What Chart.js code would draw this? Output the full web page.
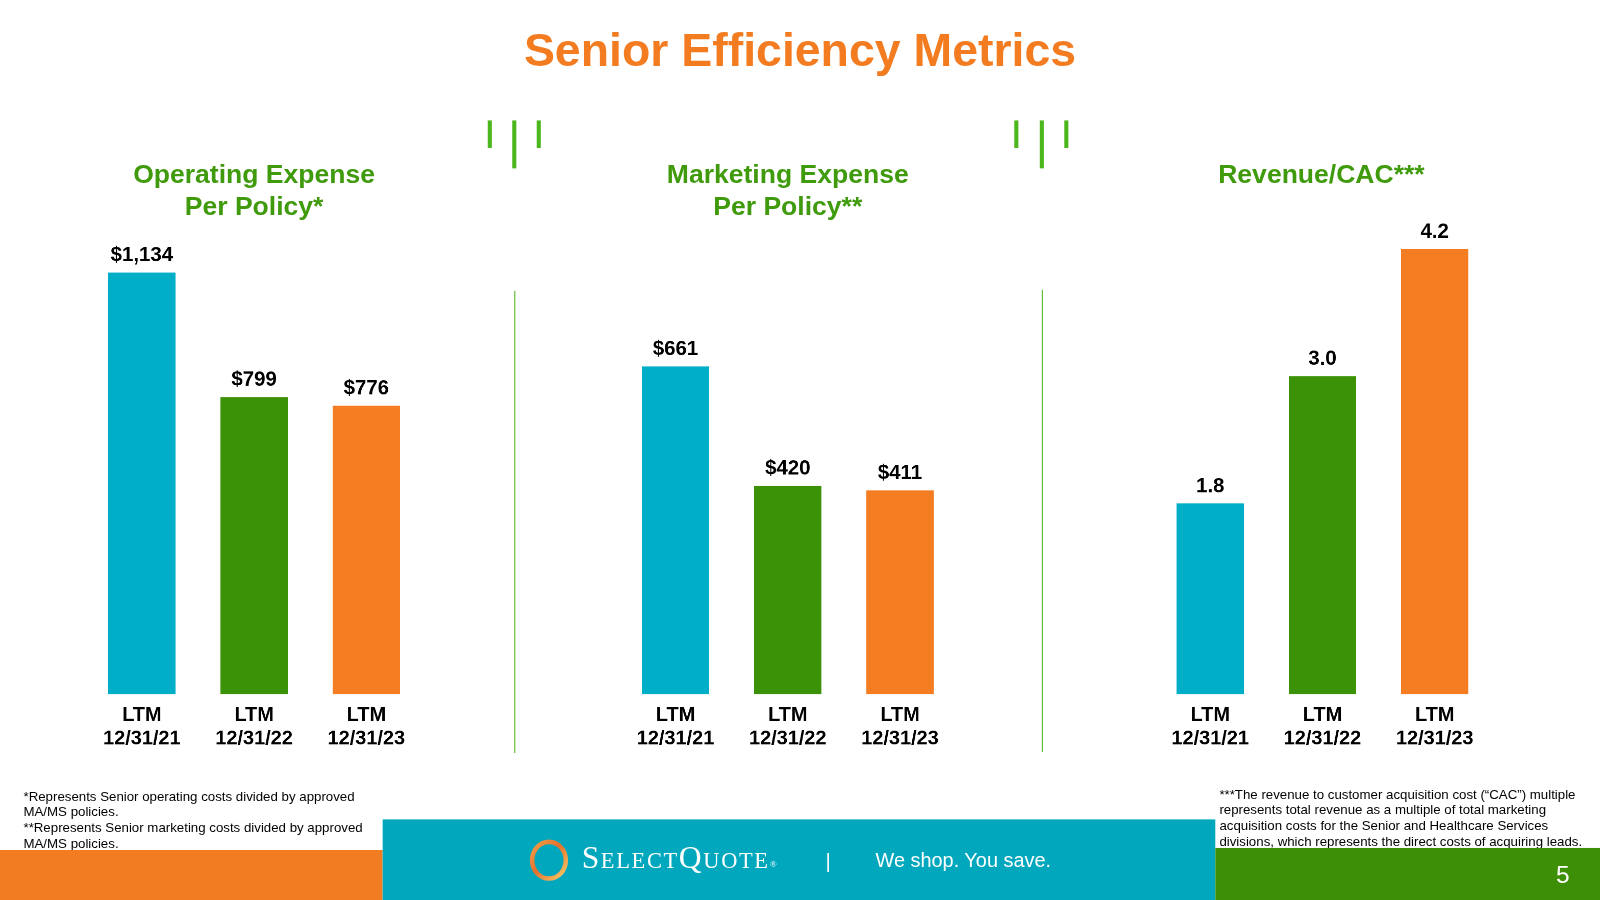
<!DOCTYPE html>
<html>
<head>
<meta charset="utf-8"/>
<title>Senior Efficiency Metrics</title>
<script src="https://cdn.jsdelivr.net/npm/chart.js@4/dist/chart.umd.min.js"></script>
<style>
html, body { margin: 0; padding: 0; background: #fff; overflow: hidden; }
#slide { position: absolute; left: 0; top: 0; width: 1568px; height: 882px;
  transform: scale(1.020408); transform-origin: 0 0;
  font-family: "Liberation Sans", Arial, sans-serif; }
.abs { position: absolute; }
.title { left: 0; width: 1568px; top: 22px; text-align: center; color: #F37C21;
  font-weight: bold; font-size: 45.5px; line-height: 56px; }
.ptitle { color: #3F9A0C; font-weight: bold; font-size: 26px; line-height: 31.5px;
  text-align: center; width: 400px; top: 155px; }
.tick { background: #4CB71C; width: 4px; }
.sep { background: #4CAF1E; width: 1.5px; }
.note { font-size: 13px; line-height: 15.2px; color: #000; }
canvas { position: absolute; }
</style>
</head>
<body>
<div id="slide">
  <div class="abs title">Senior Efficiency Metrics</div>

  <div class="abs ptitle" style="left:49px">Operating Expense<br>Per Policy*</div>
  <div class="abs ptitle" style="left:572px">Marketing Expense<br>Per Policy**</div>
  <div class="abs ptitle" style="left:1095px">Revenue/CAC***</div>

  <!-- decorative ticks and separators -->
  <div class="abs tick" style="left:478px;top:118px;height:27px"></div>
  <div class="abs tick" style="left:502px;top:118px;height:47px"></div>
  <div class="abs tick" style="left:526px;top:118px;height:27px"></div>
  <div class="abs tick" style="left:994px;top:118px;height:27px"></div>
  <div class="abs tick" style="left:1019px;top:118px;height:47px"></div>
  <div class="abs tick" style="left:1043px;top:118px;height:27px"></div>
  <div class="abs sep" style="left:503.5px;top:285px;height:453px"></div>
  <div class="abs sep" style="left:1020.5px;top:284px;height:453px"></div>

  <canvas id="c1" width="330" height="545" style="left:84px;top:200px"></canvas>
  <canvas id="c2" width="330" height="545" style="left:607px;top:200px"></canvas>
  <canvas id="c3" width="330" height="545" style="left:1131px;top:200px"></canvas>

  <div class="abs note" style="left:23px;top:773px">*Represents Senior operating costs divided by approved<br>MA/MS policies.<br>**Represents Senior marketing costs divided by approved<br>MA/MS policies.</div>
  <div class="abs note" style="left:1195px;top:771px;width:373px;white-space:nowrap">***The revenue to customer acquisition cost (“CAC”) multiple<br>represents total revenue as a multiple of total marketing<br>acquisition costs for the Senior and Healthcare Services<br>divisions, which represents the direct costs of acquiring leads.</div>

  <!-- footer bands -->
  <div class="abs" style="left:0;top:833px;width:375px;height:49px;background:#F27C21"></div>
  <div class="abs" style="left:375px;top:803px;width:816px;height:79px;background:#00A7BD"></div>
  <div class="abs" style="left:1191px;top:831px;width:377px;height:51px;background:#3D8F07"></div>
  <svg class="abs" style="left:516px;top:821px" width="44" height="44" viewBox="0 0 44 44">
    <defs>
      <linearGradient id="rg" x1="0" y1="0" x2="1" y2="1">
        <stop offset="0" stop-color="#F3A24A"/>
        <stop offset="0.45" stop-color="#E46F2C"/>
        <stop offset="1" stop-color="#F8CD6A"/>
      </linearGradient>
    </defs>
    <ellipse cx="22" cy="22" rx="16.5" ry="18" fill="none" stroke="url(#rg)" stroke-width="4.5"/>
  </svg>
  <div class="abs" style="left:570px;top:823px;color:#fff;font-family:'Liberation Serif','DejaVu Serif',serif;font-size:31px;font-variant:small-caps;letter-spacing:1.6px;line-height:36px">SelectQuote<span style="font-size:9px;vertical-align:top;position:relative;top:6px">®</span></div>
  <div class="abs" style="left:809px;top:831px;color:#fff;font-size:20px;line-height:26px">|</div>
  <div class="abs" style="left:858px;top:830px;color:#fff;font-size:19.5px;line-height:26px">We shop. You save.</div>
  <div class="abs" style="left:1525px;top:842px;color:#fff;font-size:24px;line-height:30px">5</div>
</div>

<script>
// data
var periods = ['12/31/21', '12/31/22', '12/31/23'];
var opexPerPolicy = [1134, 799, 776];
var mktPerPolicy = [661, 420, 411];
var revenueCac = [1.8, 3.0, 4.2];
var barColors = ['#00AEC7', '#3C9207', '#F47D22'];

var FONT = '"Liberation Sans", Arial, sans-serif';

// draws the value above every bar
var valueLabels = {
  id: 'valueLabels',
  afterDatasetsDraw: function(chart, args, opts) {
    var ctx = chart.ctx;
    ctx.save();
    ctx.font = 'bold 20px ' + FONT;
    ctx.fillStyle = '#000';
    ctx.textAlign = 'center';
    ctx.textBaseline = 'alphabetic';
    chart.getDatasetMeta(0).data.forEach(function(bar, i) {
      var v = chart.data.datasets[0].data[i];
      ctx.fillText(opts.fmt(v), bar.x, bar.y - 11);
    });
    ctx.restore();
  }
};

function makeChart(id, values, yMax, fmt) {
  new Chart(document.getElementById(id), {
    type: 'bar',
    data: {
      labels: periods.map(function(p) { return ['LTM', p]; }),
      datasets: [{
        data: values,
        backgroundColor: barColors,
        borderWidth: 0,
        categoryPercentage: 1.0,
        barPercentage: 0.6
      }]
    },
    options: {
      responsive: false,
      devicePixelRatio: 2,
      animation: false,
      layout: { padding: { top: 30, left: 0, right: 0, bottom: 0 } },
      plugins: {
        legend: { display: false },
        tooltip: { enabled: false },
        valueLabels: { fmt: fmt }
      },
      scales: {
        x: {
          grid: { display: false, drawTicks: false },
          border: { display: false },
          ticks: {
            color: '#000',
            padding: 9,
            autoSkip: false,
            maxRotation: 0,
            font: { family: FONT, size: 19.5, weight: 'bold', lineHeight: 1.2 }
          }
        },
        y: { display: false, min: 0, max: yMax }
      }
    },
    plugins: [valueLabels]
  });
}

makeChart('c1', opexPerPolicy, 1236, function(v) { return '$' + v.toLocaleString('en-US'); });
makeChart('c2', mktPerPolicy, 927, function(v) { return '$' + v.toLocaleString('en-US'); });
makeChart('c3', revenueCac, 4.335, function(v) { return v.toFixed(1); });
</script>
</body>
</html>
